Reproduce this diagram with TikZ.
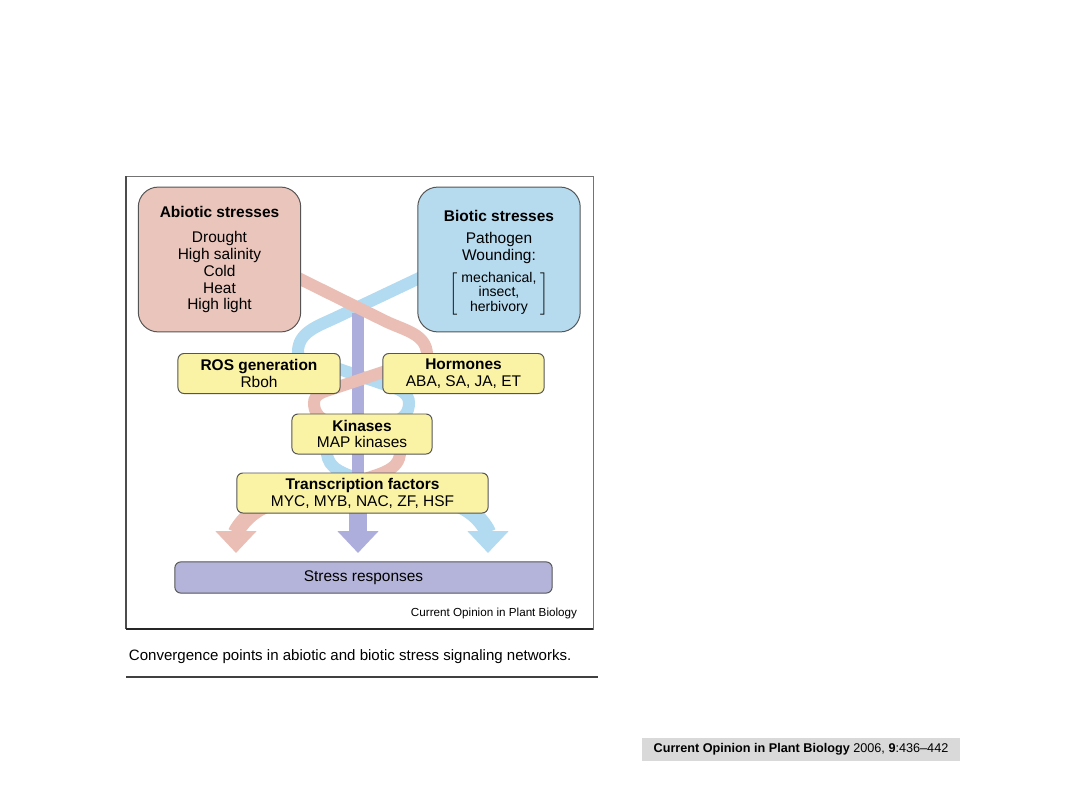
\documentclass[tikz,border=0pt]{standalone}
\usepackage{fontspec}
\setmainfont{Liberation Sans}
\usepackage{xcolor}
\usepackage{tikz}
\usetikzlibrary{arrows.meta,positioning,calc,backgrounds}
\definecolor{AbioPink}{RGB}{233,197,187}
\definecolor{RibbonPink}{RGB}{234,190,180}
\definecolor{BioBlue}{RGB}{182,218,238}
\definecolor{RibbonBlue}{RGB}{178,218,240}
\definecolor{SignalYellow}{RGB}{250,242,165}
\definecolor{RibbonPurple}{RGB}{174,174,220}
\definecolor{RespPurple}{RGB}{180,180,218}
\definecolor{EdgeGray}{RGB}{85,85,85}
\definecolor{BarGray}{RGB}{217,217,217}

\begin{document}
\begin{tikzpicture}[
  x=0.025cm, y=-0.025cm,
  box/.style={draw=EdgeGray,line width=0.7pt,align=center,inner sep=0pt,font=\fontsize{11}{12}\selectfont},
  stresscard/.style={box,rounded corners=0.5cm,minimum width=4.06cm,minimum height=3.62cm},
  relay/.style={box,fill=SignalYellow,rounded corners=0.15cm,minimum height=1cm},
  ribbon/.style={line width=0.3cm},
  outflow/.style={line width=0.4cm,-{Triangle[width=1cm,length=0.55cm]}}
]
\useasboundingbox (0,0) rectangle (1080,810);
% boxes
\node[stresscard,fill=AbioPink] (abiotic) at (219.5,259.5) {\textbf{Abiotic stresses}\\[6pt]Drought\\High salinity\\Cold\\Heat\\High light};
\node[stresscard,fill=BioBlue] (biotic) at (499,259.5) {};
\node[align=center,inner sep=0pt,anchor=north,font=\fontsize{11}{12}\selectfont] (bioticText) at (499,210.5) {\textbf{Biotic stresses}\\[3.5pt]Pathogen\\Wounding:\\[4.5pt]$\left[\mkern5mu\vcenter{\hbox{\fontsize{10}{10.6}\selectfont\begin{tabular}{@{}c@{}}mechanical,\\insect,\\herbivory\end{tabular}}}\mkern5mu\right]$};
\node[relay,minimum width=4.05cm] (ros) at (259,373.5) {\textbf{ROS generation}\\Rboh};
\node[relay,minimum width=4.03cm] (horm) at (463.5,373.5) {\textbf{Hormones}\\ABA, SA, JA, ET};
\node[relay,minimum width=3.5cm] (kin) at (362,434) {\textbf{Kinases}\\MAP kinases};
\node[relay,minimum width=6.28cm] (tf) at (362.5,493) {\textbf{Transcription factors}\\MYC, MYB, NAC, ZF, HSF};
\node[box,fill=RespPurple,rounded corners=0.15cm,minimum width=9.43cm,minimum height=0.78cm] (resp) at (363.5,577.5) {Stress responses};
\node[anchor=east,font=\fontsize{8.3}{10}\selectfont] (credit) at (582,613) {Current Opinion in Plant Biology};
% frame and caption
\draw[black!55,line width=0.5pt] (126,176) rectangle (593,629);
\draw[black!70,line width=0.9pt] (126,176) -- (126,629);
\draw[black!85,line width=2pt] (126,629) -- (593,629);
\node[anchor=west,font=\fontsize{10.7}{12}\selectfont] (caption) at (124,657) {Convergence points in abiotic and biotic stress signaling networks.};
\draw[black!75,line width=1pt] (126,677) -- (598,677);
\node[fill=BarGray,inner sep=0pt,minimum width=7.95cm,minimum height=0.58cm,font=\fontsize{9}{10}\selectfont] (journal) at (801,749.5) {\textbf{Current Opinion in Plant Biology} 2006, \textbf{9}:436--442};
% ribbons behind the boxes
\begin{scope}[on background layer]
\fill[white] (0,0) rectangle (1080,810);
\draw[ribbon,RibbonBlue] (432,272) -- (335,318) to[out=205,in=90] (298,352) to[out=-90,in=162] (330,366) -- (392,387) to[out=-18,in=90] (409,403) to[out=-90,in=90] (327,452) to[out=-90,in=160] (362,480);
\draw[ribbon,RibbonPurple] (358,313) -- (358,500);
\draw[ribbon,RibbonPink] (288,273) -- (385,321) to[out=-26,in=90] (427,355) to[out=-90,in=18] (395,368) -- (332,389) to[out=198,in=90] (314,403) to[out=-90,in=90] (400,452) to[out=-90,in=20] (362,480);
\draw[outflow,RibbonPink] (264,506) to[out=205,in=90] (236,553);
\draw[outflow,RibbonPurple,line width=0.45cm] (358,500) -- (358,553);
\draw[outflow,RibbonBlue] (461,506) to[out=-25,in=90] (488,553);
\end{scope}
\end{tikzpicture}
\end{document}
